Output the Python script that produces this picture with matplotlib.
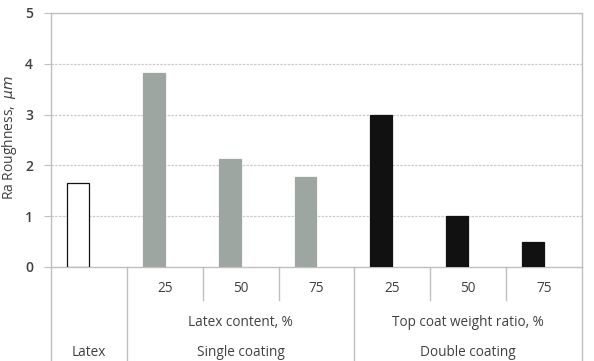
import matplotlib
matplotlib.use("Agg")
import matplotlib.pyplot as plt

plt.rcParams['font.family'] = ['Open Sans', 'DejaVu Sans']

# Data
categories = ["Latex", "25", "50", "75", "25", "50", "75"]
values = [1.65, 3.82, 2.12, 1.77, 3.0, 1.0, 0.5]
groups = ["latex", "single", "single", "single", "double", "double", "double"]
group_colors = {"latex": "#ffffff", "single": "#9ea6a2", "double": "#111111"}
subgroup_labels = ["Latex content, %", "Top coat weight ratio, %"]
group_labels = ["Latex", "Single coating", "Double coating"]
yticks = [0, 1, 2, 3, 4, 5]

fig = plt.figure(figsize=(5.94, 3.61), dpi=100)
ax = fig.add_axes([51/594, 1 - 267/361, (582 - 51)/594, (267 - 13)/361])

txt = "#404040"
line_c = "#bfbfbf"
offset = -0.145
width = 0.29
for i, (v, g) in enumerate(zip(values, groups)):
    ax.bar(i + offset, v, width=width, color=group_colors[g],
           edgecolor="#111111" if g == "latex" else group_colors[g], linewidth=0.9, zorder=3)

ax.set_xlim(-0.5, 6.5)
ax.set_ylim(0, 5)
ax.set_yticks(yticks)
ax.set_yticklabels([str(t) for t in yticks], color=txt, fontsize=10, fontweight="semibold")
ax.set_xticks([])
for yv in yticks[1:-1]:
    ax.axhline(yv, color="#cccccc", linewidth=0.9, linestyle=(0, (2, 1)), zorder=1)
for s in ["top", "right", "left", "bottom"]:
    ax.spines[s].set_color(line_c)
    ax.spines[s].set_linewidth(1.0)
ax.tick_params(axis="y", length=5, color=line_c, pad=8)

ax.set_ylabel("Ra Roughness,  $\\mu m$", color=txt, fontsize=10, va="center")
ax.yaxis.set_label_coords(-0.078, 0.51)

tr = ax.get_xaxis_transform()
bottom = -0.37
row1 = -0.13
for xv in [-0.5, 0.5, 3.5, 6.5]:
    ax.plot([xv, xv], [0, bottom], transform=tr, color=line_c, lw=1.0, clip_on=False)
for xv in [1.5, 2.5, 4.5, 5.5]:
    ax.plot([xv, xv], [0, row1], transform=tr, color=line_c, lw=1.0, clip_on=False)

fs = 9.8
for i in range(1, 7):
    ax.text(i, -0.083, categories[i], transform=tr, ha="center", va="center", color=txt, fontsize=fs)
ax.text(2, -0.217, subgroup_labels[0], transform=tr, ha="center", va="center", color=txt, fontsize=fs)
ax.text(5, -0.217, subgroup_labels[1], transform=tr, ha="center", va="center", color=txt, fontsize=fs)
ax.text(0, -0.335, group_labels[0], transform=tr, ha="center", va="center", color=txt, fontsize=fs)
ax.text(2, -0.335, group_labels[1], transform=tr, ha="center", va="center", color=txt, fontsize=fs)
ax.text(5, -0.335, group_labels[2], transform=tr, ha="center", va="center", color=txt, fontsize=fs)

fig.savefig("out.png", dpi=100)
